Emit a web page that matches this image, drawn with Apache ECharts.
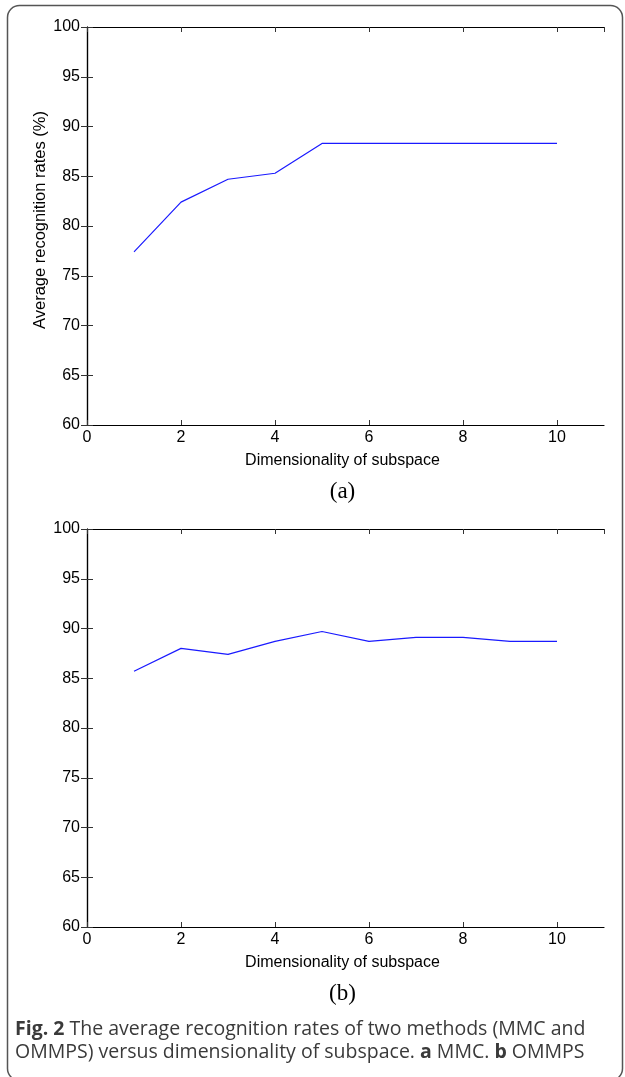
<!DOCTYPE html>
<html>
<head>
<meta charset="utf-8">
<script src="https://cdn.jsdelivr.net/npm/echarts@6/dist/echarts.min.js"></script>
<style>
  html, body { margin: 0; padding: 0; background: #fff; }
  #chart { width: 625px; height: 1077px; }
</style>
</head>
<body>
<div id="chart"></div>
<script>
// Subspace dimensions (x) and recognition rates (%) for the two methods
const dims = [1, 2, 3, 4, 5, 6, 7, 8, 9, 10];
const mmcRates = [77.4, 82.4, 84.7, 85.3, 88.3, 88.3, 88.3, 88.3, 88.3, 88.3];
const ommpsRates = [85.7, 88.0, 87.4, 88.7, 89.7, 88.7, 89.1, 89.1, 88.7, 88.7];

const xLabel = 'Dimensionality of subspace';
const yLabel = 'Average recognition rates (%)';
const panelTags = ['(a)', '(b)'];

const AXIS_FONT = '"Liberation Sans", Arial, Helvetica, sans-serif';
const grids = [
  { left: 87, top: 27, width: 517, height: 398 },
  { left: 87, top: 529, width: 517, height: 398 }
];

function xAxes(gi) {
  const base = {
    gridIndex: gi, type: 'value', min: 0, max: 11, interval: 2,
    splitLine: { show: false },
    axisLine: { show: true, lineStyle: { color: '#000', width: 1.2 } },
    axisTick: { show: true, inside: true, length: 5, lineStyle: { color: '#333' } }
  };
  return [
    Object.assign({}, base, {
      position: 'bottom',
      axisLabel: { show: true, showMaxLabel: false, color: '#000', fontSize: 16,
                   fontFamily: AXIS_FONT, margin: 5 }
    }),
    Object.assign({}, base, { position: 'top', axisLabel: { show: false } })
  ];
}
function yAxes(gi) {
  const base = {
    gridIndex: gi, type: 'value', min: 60, max: 100, interval: 5,
    splitLine: { show: false },
    axisLine: { show: true, lineStyle: { color: '#000', width: 1.2 } },
    axisTick: { show: true, inside: true, length: 6, lineStyle: { color: '#333' } }
  };
  return [
    Object.assign({}, base, {
      position: 'left',
      axisLabel: { show: true, color: '#000', fontSize: 16, fontFamily: AXIS_FONT, margin: 7 }
    }),
    Object.assign({}, base, { position: 'right', axisLabel: { show: false } })
  ];
}

const series = [mmcRates, ommpsRates].map((vals, gi) => ({
  type: 'line',
  xAxisIndex: gi * 2,
  yAxisIndex: gi * 2,
  data: dims.map((d, i) => [d, vals[i]]),
  showSymbol: false,
  symbol: 'none',
  lineStyle: { color: '#1a1aff', width: 1.2 },
  animation: false
}));

const texts = [];
grids.forEach((g, gi) => {
  const cx = g.left + g.width / 2 - 3;
  const bottom = g.top + g.height;
  texts.push({
    type: 'text', x: cx, y: bottom + 36,
    style: { text: xLabel, font: '16px ' + AXIS_FONT, fill: '#000',
             align: 'center', verticalAlign: 'middle' }
  });
  texts.push({
    type: 'text', x: cx, y: bottom + 67,
    style: { text: panelTags[gi], font: '23px "Liberation Serif", "Times New Roman", serif',
             fill: '#000', align: 'center', verticalAlign: 'middle' }
  });
});
// vertical axis title of the upper panel
texts.push({
  type: 'text', x: 40, y: 220, rotation: Math.PI / 2,
  style: { text: yLabel, font: '16.5px ' + AXIS_FONT, fill: '#000',
           align: 'center', verticalAlign: 'middle' }
});
// figure caption
const CAP_FONT = '"Open Sans", "Noto Sans", sans-serif';
texts.push({
  type: 'text', x: 15, y: 1018,
  style: {
    text: '{b|Fig. 2} The average recognition rates of two methods (MMC and\nOMMPS) versus dimensionality of subspace. {b|a} MMC. {b|b} OMMPS',
    font: '19.5px ' + CAP_FONT,
    fill: '#3a3a3a', lineHeight: 23,
    rich: {
      b: { fontWeight: 'bold', fontSize: 19.5, fontFamily: CAP_FONT,
           fill: '#3a3a3a', lineHeight: 23 }
    }
  }
});
// rounded figure frame
texts.push({
  type: 'rect', shape: { x: 7.5, y: 5.5, width: 615, height: 1075, r: 12 },
  style: { fill: 'none', stroke: '#555', lineWidth: 1.5 }
});

const chart = echarts.init(document.getElementById('chart'), null, { renderer: 'canvas' });
chart.setOption({
  animation: false,
  backgroundColor: '#fff',
  grid: grids,
  xAxis: xAxes(0).concat(xAxes(1)),
  yAxis: yAxes(0).concat(yAxes(1)),
  series: series,
  graphic: texts
});
</script>
</body>
</html>
